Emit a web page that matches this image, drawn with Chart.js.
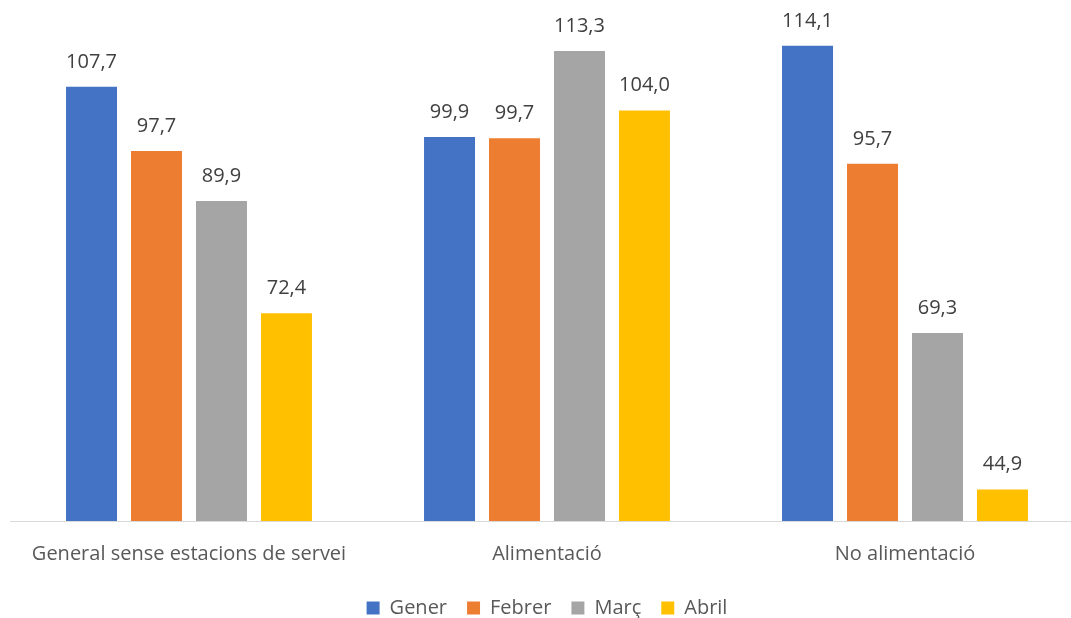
<!DOCTYPE html>
<html><head><meta charset="utf-8">
<script src="https://cdn.jsdelivr.net/npm/chart.js@4"></script>
<style>html,body{margin:0;padding:0;background:#fff;overflow:hidden}#w{width:1084px;height:618px}</style>
</head><body><div id="w"><canvas id="c"></canvas></div>
<script>
const categories = ["General sense estacions de servei", "Alimentació", "No alimentació"];
const gener = [107.7, 99.9, 114.1];
const febrer = [97.7, 99.7, 95.7];
const marc = [89.9, 113.3, 69.3];
const abril = [72.4, 104.0, 44.9];
const seriesNames = ["Gener", "Febrer", "Març", "Abril"];
const colors = ["#4472C4", "#ED7D31", "#A5A5A5", "#FFC000"];
const FONT = "'Open Sans', sans-serif";

const labelPlugin = {
  id: 'valLabels',
  afterDatasetsDraw(chart) {
    const ctx = chart.ctx;
    ctx.save();
    ctx.font = "20px " + FONT;
    ctx.fillStyle = "#404040";
    ctx.textAlign = "center";
    ctx.textBaseline = "bottom";
    chart.data.datasets.forEach((ds, i) => {
      chart.getDatasetMeta(i).data.forEach((el, j) => {
        ctx.fillText(ds.data[j].toFixed(1).replace('.', ','), el.x, el.y - 15);
      });
    });
    ctx.restore();
  }
};

const data = [gener, febrer, marc, abril];
new Chart(document.getElementById('c'), {
  type: 'bar',
  data: {
    labels: categories,
    datasets: seriesNames.map((n, i) => ({
      label: n, data: data[i], backgroundColor: colors[i],
      barPercentage: 0.785, categoryPercentage: 0.726
    }))
  },
  options: {
    responsive: true, maintainAspectRatio: false, animation: false,
    layout: { padding: { left: 10, right: 0, top: 8, bottom: -10 } },
    plugins: {
      tooltip: { enabled: false },
      legend: {
        position: 'bottom',
        labels: { color: "#595959", font: { size: 20, family: FONT }, boxWidth: 13, boxHeight: 13, padding: 20 }
      }
    },
    scales: {
      y: { display: false, min: 40, max: 120 },
      x: {
        grid: { display: false },
        border: { display: true, color: "#d9d9d9", width: 1 },
        ticks: { color: "#595959", font: { size: 20, family: FONT }, padding: 13 },
        afterFit(s) { s.height -= 1; }
      }
    }
  },
  plugins: [labelPlugin]
});
</script></body></html>
